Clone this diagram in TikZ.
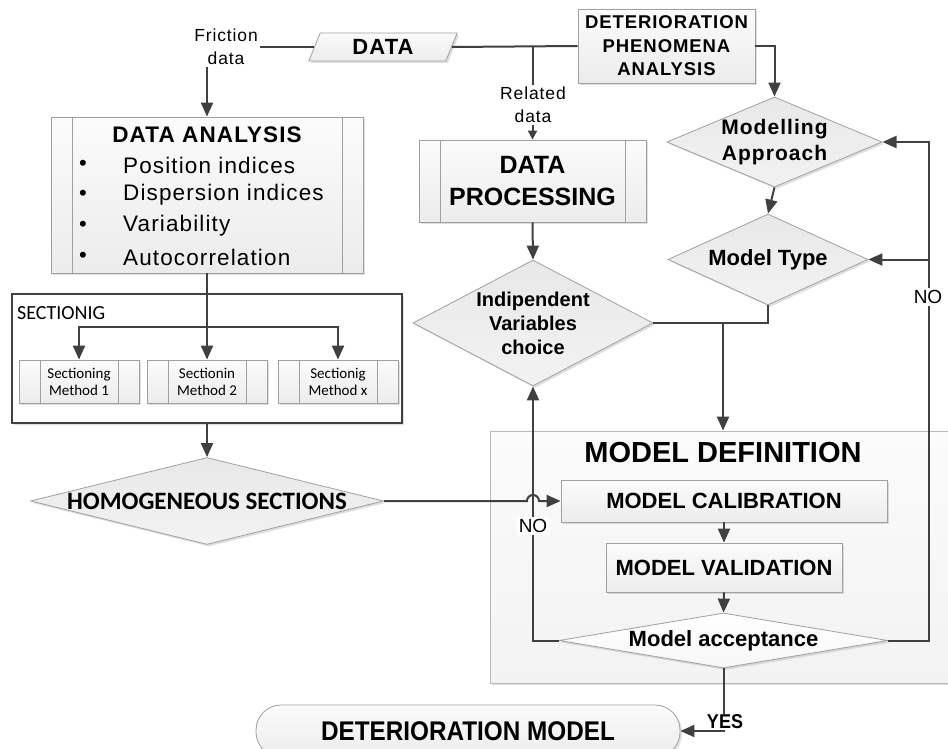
\documentclass[tikz,border=0pt]{standalone}
\usepackage{fontspec}
\setmainfont{Liberation Sans}
\newfontfamily\spfont[LetterSpace=5]{Liberation Sans}
\newfontfamily\calfont{Carlito}
\newfontfamily\narrowfont[FakeStretch=0.9]{Liberation Sans}
\usetikzlibrary{arrows.meta,shapes.geometric,shadows,positioning}
\definecolor{lineC}{HTML}{404040}
\definecolor{edgeC}{HTML}{A0A0A0}
\newcommand{\fsz}[2]{\fontsize{#1}{#2}\selectfont}

\tikzset{
  wire/.style={draw=lineC,line width=2pt},
  conn/.style={wire,-{Triangle[length=14pt,width=12pt]}},
  shd/.style={drop shadow={shadow xshift=2pt,shadow yshift=-2pt,opacity=.25,fill=gray}},
  box/.style={shd,draw=edgeC,line width=.8pt,top color=gray!3,bottom color=gray!15,inner sep=0pt,align=center},
  subr/.style={box,path picture={
    \draw[edgeC,line width=.8pt]
      ([xshift=21pt]path picture bounding box.north west) -- ([xshift=21pt]path picture bounding box.south west)
      ([xshift=-21pt]path picture bounding box.north east) -- ([xshift=-21pt]path picture bounding box.south east);}},
  choice/.style={shd,diamond,draw=edgeC,line width=.8pt,top color=gray!18,bottom color=gray!10,inner sep=0pt,align=center},
  lbl/.style={fill=white,inner sep=2pt,align=center}
}

\begin{document}
\begin{tikzpicture}[x=1pt,y=1pt]
\useasboundingbox (0,0) rectangle (948,-749);
% containers
\node[box,draw=gray!55,top color=gray!3,bottom color=gray!10,minimum width=466pt,minimum height=252pt] (md) at (723,-557) {};
\node[shd,draw=lineC,line width=2.2pt,fill=white,minimum width=390pt,minimum height=129pt] (sect) at (207,-358.5) {};

% top row
\node[box,trapezium,trapezium left angle=70,trapezium right angle=110,trapezium stretches=true,
      minimum width=149pt,minimum height=28pt,font=\spfont\bfseries\fsz{22}{26}] (data) at (383,-47) {DATA};
\node[box,minimum width=177pt,minimum height=74pt,font=\spfont\bfseries\fsz{18.5}{23.5}] (dpa) at (666.5,-46) {DETERIORATION\\PHENOMENA\\ANALYSIS};

% data analysis
\node[subr,minimum width=312pt,minimum height=156pt] (da) at (207,-195) {};
\node[font=\spfont\bfseries\fsz{22.5}{26}] (datitle) at (207,-135) {DATA ANALYSIS};
\foreach \y/\t [count=\i] in {165/Position indices,195/Dispersion indices,226/Variability,257/Autocorrelation}{
  \node[font=\fsz{22}{26}] (bul\i) at (83,-\y) {\textbullet};
  \node[font=\spfont\fsz{22.5}{26},anchor=west,inner sep=0pt] (item\i) at (123,-\y) {\t};
}

% sectioning
\node[font=\calfont\fsz{20}{24},anchor=west,inner sep=0pt] (secttitle) at (17,-313) {SECTIONIG};
\foreach \x/\t/\m [count=\i] in {79/Sectioning/1,207/Sectionin/2,338/Sectionig/x}
  \node[subr,minimum width=120pt,minimum height=43pt,font=\calfont\fsz{15}{17}] (sm\i) at (\x,-381.5) {\t\\Method \m};
\node[choice,aspect=4.06,minimum width=353pt,minimum height=87pt,font=\calfont\bfseries\fsz{25}{30}] (hs) at (207,-501) {HOMOGENEOUS SECTIONS};

% middle and right
\node[subr,minimum width=227pt,minimum height=82pt,font=\bfseries\fsz{25}{32}] (dp) at (532.5,-181) {DATA\\PROCESSING};
\node[choice,aspect=1.9,minimum width=240pt,minimum height=126pt,font=\bfseries\fsz{20}{24}] (iv) at (533,-323) {Indipendent\\Variables\\choice};
\node[choice,aspect=2.39,minimum width=215pt,minimum height=90pt,font=\spfont\bfseries\fsz{21}{26}] (ma) at (774.5,-142) {Modelling\\Approach};
\node[choice,aspect=2.2,minimum width=200pt,minimum height=91pt,font=\bfseries\fsz{22}{26}] (mt) at (768,-259.5) {Model Type};

% model definition
\node[font=\bfseries\fsz{29}{34}] (mdtitle) at (723,-453) {MODEL DEFINITION};
\node[box,minimum width=326pt,minimum height=42pt,font=\bfseries\fsz{22}{26}] (mc) at (724,-501) {MODEL CALIBRATION};
\node[box,minimum width=236pt,minimum height=49pt,font=\bfseries\fsz{22}{26}] (mv) at (724,-567.5) {MODEL VALIDATION};
\node[choice,top color=white,bottom color=gray!6,aspect=6,minimum width=329pt,minimum height=55pt,font=\bfseries\fsz{22}{26}] (acc) at (723.5,-640.5) {Model acceptance};
\node[box,rounded corners=25pt,minimum width=424pt,minimum height=52pt,font=\narrowfont\bfseries\fsz{27}{32}] (ter) at (468,-731) {DETERIORATION MODEL};

% connectors
\draw[wire] (data.east) -- (dpa.west);
\draw[conn] (data.west) -| (da.north);
\coordinate (j1) at (dp.north |- data.east);
\draw[wire,-{Triangle[length=9pt,width=9pt]}] (j1) -- (dp.north);
\draw[conn] (dpa.east) -| (ma.north);
\draw[conn] (ma.south) -- (mt.north);
\draw[conn] (dp.south) -- (iv.north);
\draw[wire] (mt.south) |- (iv.east);
\coordinate (j2) at (723,-323);
\draw[conn] (j2) -- (md.north);
\draw[conn] (da.south) -- (sm2.north);
\coordinate (j3) at (207,-327);
\draw[conn] (j3) -| (sm1.north);
\draw[conn] (j3) -| (sm3.north);
\draw[conn] (sect.south) -- (hs.north);
\draw[conn] (hs.east) -- ([xshift=-6pt]hs.east -| iv.south) arc[start angle=180,end angle=0,radius=6pt] -- (mc.west);
\draw[conn] (mc.south) -- (mv.north);
\draw[conn] (mv.south) -- (acc.north);
\draw[conn] (acc.west) -| (iv.south);
\coordinate (rx) at (929,-259.5);
\draw[conn] (acc.east) -| (rx) |- (ma.east);
\draw[conn] (rx) -- (mt.east);
\draw[conn] (acc.south) |- (ter.east);

% connector labels
\node[lbl,font=\spfont\fsz{17.5}{23}] (fric) at (226,-47) {Friction\\data};
\node[lbl,font=\spfont\fsz{17.5}{23}] (rel) at (533,-105) {Related\\data};
\node[lbl,font=\fsz{19}{22}] (no1) at (533,-526) {NO};
\node[lbl,font=\fsz{19}{22}] (no2) at (928,-297) {NO};
\node[lbl,inner sep=1pt,font=\narrowfont\bfseries\fsz{20}{24}] (yes) at (725,-722) {YES};
\end{tikzpicture}
\end{document}
